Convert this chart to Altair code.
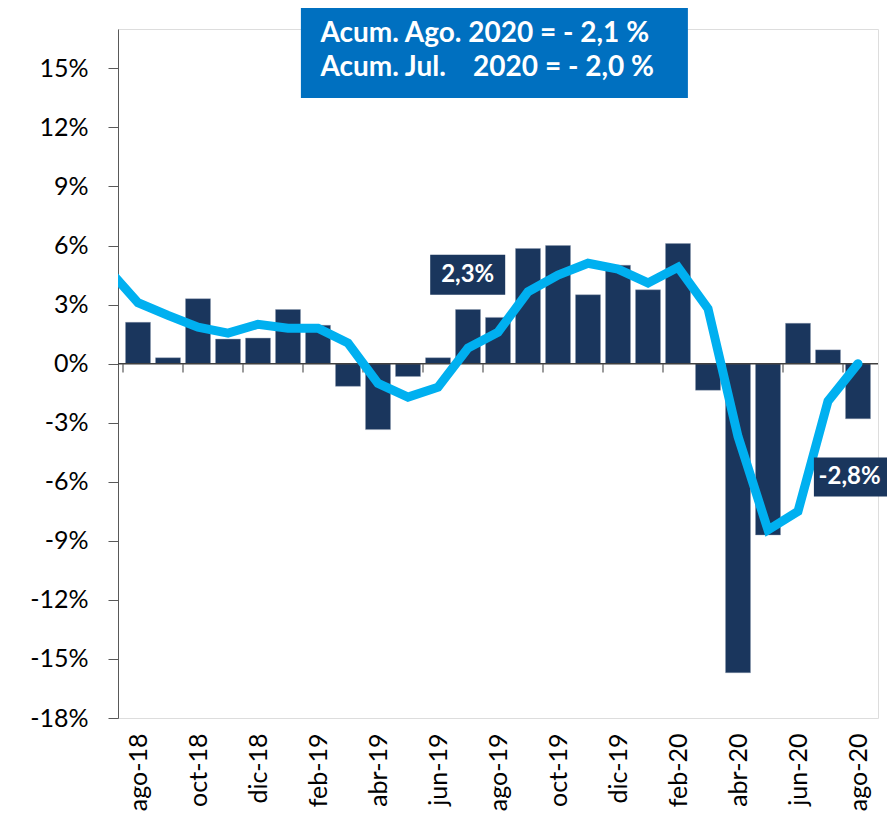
import altair as alt
import pandas as pd
import json

# ---- data ----
months = ['ago-18', 'sep-18', 'oct-18', 'nov-18', 'dic-18', 'ene-19', 'feb-19', 'mar-19',
          'abr-19', 'may-19', 'jun-19', 'jul-19', 'ago-19', 'sep-19', 'oct-19', 'nov-19',
          'dic-19', 'ene-20', 'feb-20', 'mar-20', 'abr-20', 'may-20', 'jun-20', 'jul-20', 'ago-20']
bar_values = [2.1, 0.3, 3.3, 1.25, 1.3, 2.75, 1.95, -1.15, -3.35, -0.65, 0.3, 2.75, 2.35,
              5.85, 6.0, 3.5, 5.0, 3.75, 6.1, -1.35, -15.7, -8.7, 2.05, 0.7, -2.8]
line_months = ['jul-18'] + months
line_values = [4.8, 3.1, 2.45, 1.85, 1.55, 2.0, 1.8, 1.8, 1.05, -1.0, -1.7, -1.2, 0.8, 1.6,
               3.65, 4.5, 5.1, 4.8, 4.1, 4.9, 2.8, -3.7, -8.45, -7.5, -1.9, 0.0]
y_ticks = [-18, -15, -12, -9, -6, -3, 0, 3, 6, 9, 12, 15]
x_label_values = list(range(0, 25, 2))
x_tick_bounds = [v - 0.5 for v in x_label_values]

NAVY = '#1a365d'
CYAN = '#00b0f0'
BLUE = '#0070c0'
FONT = 'Lato'

bars_df = pd.DataFrame({'idx': list(range(len(months))), 'mes': months, 'valor': bar_values})
line_df = pd.DataFrame({'idx': list(range(-1, len(months))), 'mes': line_months, 'valor': line_values})
zero_df = pd.DataFrame({'y': [0]})
ticks_df = pd.DataFrame({'x': x_tick_bounds, 'y0': [0] * len(x_tick_bounds),
                         'y1': [-0.45] * len(x_tick_bounds)})

label_boxes = pd.DataFrame({
    'x': [9.74, 22.53], 'x2': [12.24, 25.0],
    'y': [5.53, -4.77], 'y2': [3.5, -6.75],
})
label_texts = pd.DataFrame({'x': [10.99, 23.72], 'y': [4.5, -5.76], 'txt': ['2,3%', '-2,8%']})

top_box = pd.DataFrame({'x': [5.43], 'x2': [18.33], 'y': [18.3], 'y2': [13.5]})
top_texts = pd.DataFrame({'x': [6.08, 6.08], 'y': [16.75, 15.0],
                          'txt': ['Acum. Ago. 2020 = - 2,1 %',
                                  'Acum. Jul.\u00a0\u00a0\u00a0 2020 = - 2,0 %']})

x_scale = alt.Scale(domain=[-0.5, 24.5], nice=False, zero=False)
y_scale = alt.Scale(domain=[-18, 17], nice=False, zero=False)

label_expr = json.dumps(months) + '[datum.value]'
x_axis = alt.Axis(values=x_label_values, labelExpr=label_expr, labelAngle=-90, ticks=False,
                  domain=False, grid=False, labelFont=FONT, labelFontSize=25, labelColor='black',
                  labelPadding=15, title=None)
y_axis = alt.Axis(values=y_ticks, labelExpr="datum.value + '%'", grid=False, domainColor='#595959',
                  tickColor='#595959', tickSize=10, labelFont=FONT, labelFontSize=25,
                  labelColor='black', labelPadding=20, title=None)

X = lambda f: alt.X(f, type='quantitative', scale=x_scale, axis=x_axis)
Y = lambda f: alt.Y(f, type='quantitative', scale=y_scale, axis=y_axis)

bars = alt.Chart(bars_df).mark_bar(size=25, color=NAVY, stroke='#8a98ad', strokeWidth=0.4).encode(
    x=X('idx'), y=Y('valor'), y2=alt.Y2(datum=0)
)
zero = alt.Chart(zero_df).mark_rule(color='#404040', strokeWidth=1.5).encode(y=Y('y'))
ticks = alt.Chart(ticks_df).mark_rule(color='#595959', strokeWidth=1.2).encode(
    x=X('x'), y=Y('y0'), y2='y1'
)
line = alt.Chart(line_df).mark_line(color=CYAN, strokeWidth=9, clip=True, strokeCap='round').encode(
    x=X('idx'), y=Y('valor'), order='idx'
)
lbl_box = alt.Chart(label_boxes).mark_rect(color=NAVY, clip=False).encode(
    x=X('x'), x2='x2', y=Y('y'), y2='y2'
)
lbl_txt = alt.Chart(label_texts).mark_text(color='white', font=FONT, fontSize=24, fontWeight='bold',
                                            align='center', baseline='middle', clip=False).encode(
    x=X('x'), y=Y('y'), text='txt'
)
tbox = alt.Chart(top_box).mark_rect(color=BLUE, clip=False).encode(
    x=X('x'), x2='x2', y=Y('y'), y2='y2'
)
ttxt = alt.Chart(top_texts).mark_text(color='white', font=FONT, fontSize=28, fontWeight='bold',
                                       align='left', baseline='middle', clip=False).encode(
    x=X('x'), y=Y('y'), text='txt'
)

chart = alt.layer(bars, zero, ticks, line, lbl_box, lbl_txt, tbox, ttxt).properties(
    width=760, height=689,
    autosize=alt.AutoSizeParams(type='none'),
    padding={'left': 110, 'top': 21, 'right': 9, 'bottom': 100},
).configure_view(stroke=None).configure(background='white')

chart.save('out.html', embed_options={'renderer': 'svg', 'actions': False})
